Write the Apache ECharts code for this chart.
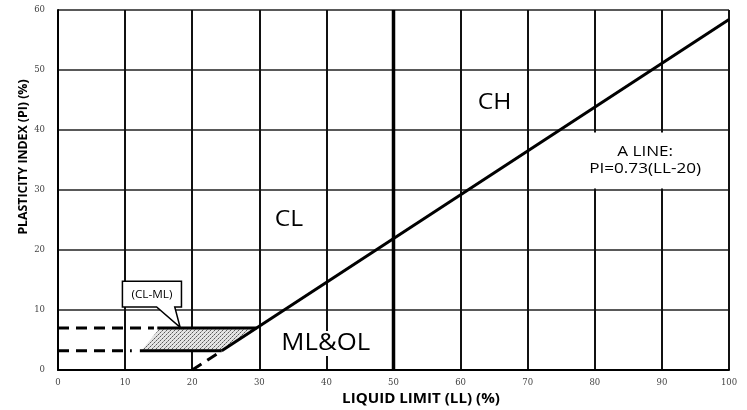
<!DOCTYPE html>
<html><head><meta charset="utf-8">
<script src="https://cdn.jsdelivr.net/npm/echarts@6/dist/echarts.min.js"></script>
<style>html,body{margin:0;padding:0;background:#fff}#c{width:747px;height:410px}</style>
</head><body><div id="c"></div>
<script>
// ---- data ----
const xRange = [0, 100];
const yRange = [0, 60];
const tickStep = 10;
const aLineDashed = [[20, 0], [24.4, 3.2]];
const aLineSolid = [[24.4, 3.2], [100, 58.4]];
const upperDashed = [[0, 7], [14.3, 7]];
const upperSolid = [[14.8, 7], [29.6, 7]];
const lowerDashed = [[0, 3.2], [11, 3.2]];
const lowerSolid = [[12.2, 3.2], [24.4, 3.2]];
const llBoundary = [[50, 0], [50, 60]];
const clmlZone = [[15.2, 7], [29.6, 7], [24.4, 3.2], [12.4, 3.2]];
const calloutBox = [[9.6, 14.8], [18.4, 10.5]];
const calloutBase = [14.7, 17.4];
const calloutTip = [18.2, 7.1];
const calloutText = '(CL-ML)';
const zoneNames = ['CH', 'CL', 'ML&OL'];
const zonePos = [[65.05, 44.6], [34.4, 25.0], [39.9, 4.4]];
const aLineText = ['A LINE:', 'PI=0.73(LL-20)'];
const aLineTextPos = [87.5, 34.9];
const xTitle = 'LIQUID LIMIT (LL) (%)';
const yTitle = 'PLASTICITY INDEX (PI) (%)';

// stipple pattern
const pc = document.createElement('canvas');
pc.width = 4; pc.height = 4;
const pctx = pc.getContext('2d');
pctx.fillStyle = '#e4e4e4'; pctx.fillRect(0, 0, 4, 4);
pctx.fillStyle = '#5a5a5a'; pctx.fillRect(0, 0, 1, 1); pctx.fillRect(2, 2, 1, 1);
pctx.fillStyle = '#9a9a9a'; pctx.fillRect(3, 1, 1, 1); pctx.fillRect(1, 3, 1, 1);
const pattern = { image: pc, repeat: 'repeat' };

const FONT = '"Open Sans", "DejaVu Sans", sans-serif';
const SX = 1.12; // horizontal stretch of the reference's lettering
const chart = echarts.init(document.getElementById('c'), null, { renderer: 'canvas' });

function seg(data, dashed, width, z) {
  return {
    type: 'line', data: data, symbol: 'none', silent: true, z: z || 5,
    lineStyle: { color: '#000', width: width || 3, type: dashed ? [11, 7] : 'solid', cap: 'butt' },
    animation: false
  };
}

const zoneStyle = [
  { size: 22, bg: null, pad: 0 },
  { size: 22, bg: null, pad: 0 },
  { size: 23, bg: '#fff', pad: [2, 4, 0, 4] }
];

const option = {
  animation: false,
  backgroundColor: '#fff',
  grid: { left: 58, right: 18, top: 10, bottom: 40 },
  xAxis: {
    type: 'value', min: xRange[0], max: xRange[1], interval: tickStep,
    axisLine: { show: true, lineStyle: { color: '#000', width: 2 } },
    axisTick: { show: false },
    axisLabel: { color: '#444', fontSize: 8.5, fontFamily: 'DejaVu Serif, serif', margin: 8 },
    splitLine: { show: true, lineStyle: { color: '#111', width: 2 } }
  },
  yAxis: {
    type: 'value', min: yRange[0], max: yRange[1], interval: tickStep,
    axisLine: { show: true, lineStyle: { color: '#000', width: 2 } },
    axisTick: { show: false },
    axisLabel: { color: '#444', fontSize: 8.5, fontFamily: 'DejaVu Serif, serif', margin: 13 },
    splitLine: { show: true, lineStyle: { color: '#222', width: 1.5 } }
  },
  graphic: [
    { type: 'text', x: 421, y: 399, scaleX: SX, style: { text: xTitle, font: 'bold 13.5px ' + FONT, fill: '#000', align: 'center', verticalAlign: 'middle' } },
    { type: 'text', x: 23, y: 157, rotation: Math.PI / 2, style: { text: yTitle, font: 'bold 12.3px ' + FONT, fill: '#000', align: 'center', verticalAlign: 'middle' } }
  ],
  series: [
    seg(llBoundary, false, 3.5, 3),
    {
      type: 'custom', silent: true, z: 4,
      data: [0],
      renderItem: function (params, api) {
        const pts = clmlZone.map(p => api.coord(p));
        return { type: 'polygon', shape: { points: pts }, style: { fill: pattern, stroke: null } };
      }
    },
    seg(upperDashed, true), seg(upperSolid, false),
    seg(lowerDashed, true), seg(lowerSolid, false),
    seg(aLineDashed, true), seg(aLineSolid, false),
    {
      type: 'custom', silent: true, z: 8,
      data: [0],
      renderItem: function (params, api) {
        const tl = api.coord(calloutBox[0]);
        const br = api.coord(calloutBox[1]);
        const b1 = api.coord([calloutBase[0], calloutBox[1][1]]);
        const b2 = api.coord([calloutBase[1], calloutBox[1][1]]);
        const tip = api.coord(calloutTip);
        const pts = [[tl[0], tl[1]], [br[0], tl[1]], [br[0], br[1]], b2, tip, b1, [tl[0], br[1]]];
        return {
          type: 'group', children: [
            { type: 'polygon', shape: { points: pts }, style: { fill: '#fff', stroke: '#000', lineWidth: 1.5 } },
            { type: 'text', x: (tl[0] + br[0]) / 2, y: (tl[1] + br[1]) / 2 + 0.5, scaleX: SX,
              style: { text: calloutText, x: 0, y: 0, align: 'center', verticalAlign: 'middle', font: '10.5px ' + FONT, fill: '#000' } }
          ]
        };
      }
    },
    {
      type: 'custom', silent: true, z: 9,
      data: zonePos.map((p, i) => ({ name: zoneNames[i], value: p })),
      renderItem: function (params, api) {
        const c = api.coord([api.value(0), api.value(1)]);
        const s = zoneStyle[params.dataIndex];
        const st = { text: zoneNames[params.dataIndex], x: 0, y: 0, align: 'center', verticalAlign: 'middle', font: s.size + 'px ' + FONT, fill: '#000' };
        if (s.bg) { st.backgroundColor = s.bg; st.padding = s.pad; }
        return { type: 'text', x: c[0], y: c[1], scaleX: SX, style: st };
      }
    },
    {
      type: 'custom', silent: true, z: 9,
      data: [aLineTextPos],
      renderItem: function (params, api) {
        const c = api.coord([api.value(0), api.value(1)]);
        return {
          type: 'text', x: c[0], y: c[1], scaleX: SX,
          style: { text: aLineText.join('\n'), x: 0, y: 0, align: 'center', verticalAlign: 'middle', font: '15.3px ' + FONT, lineHeight: 17, fill: '#000', backgroundColor: '#fff', padding: [13, 8, 9, 8] }
        };
      }
    }
  ]
};
chart.setOption(option);
</script>
</body></html>
